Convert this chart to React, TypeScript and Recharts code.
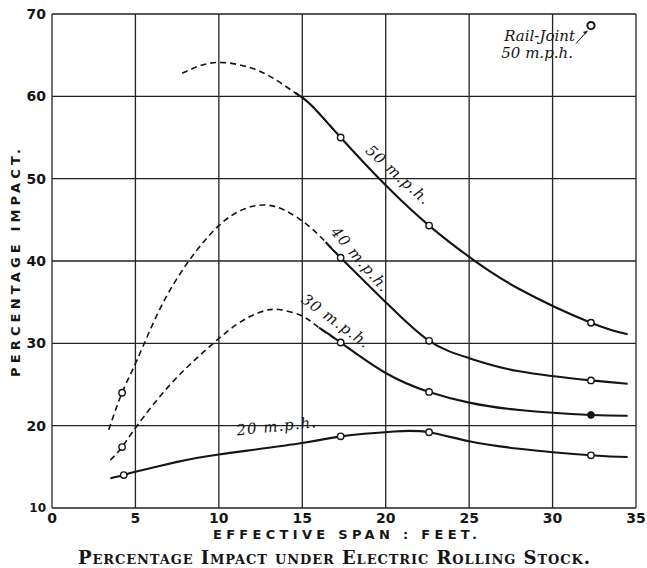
import { ComposedChart, Line, XAxis, YAxis, CartesianGrid, ReferenceDot } from 'recharts';

// span (feet) / percentage impact
const SPAN_TICKS = [0, 5, 10, 15, 20, 25, 30, 35];
const IMPACT_TICKS = [10, 20, 30, 40, 50, 60, 70];

// dashed parts run a little past the join, the solid part is drawn over them
const MPH50_DASHED = [
  { x: 7.8, y: 62.8 }, { x: 9, y: 63.8 }, { x: 10.3, y: 64.1 }, { x: 12, y: 63.4 },
  { x: 13.5, y: 61.9 }, { x: 14.6, y: 60.4 }, { x: 15.5, y: 59 }, { x: 17.3, y: 55 },
];
const MPH50_SOLID = [
  { x: 14.6, y: 60.4 }, { x: 15.5, y: 59 }, { x: 17.3, y: 55 }, { x: 20, y: 49.2 },
  { x: 22.6, y: 44.3 }, { x: 25, y: 40.5 }, { x: 28, y: 36.6 }, { x: 32.3, y: 32.5 },
  { x: 34.5, y: 31.1 },
];
const MPH40_DASHED = [
  { x: 3.4, y: 19.5 }, { x: 4.2, y: 24 }, { x: 5.1, y: 28 }, { x: 6.5, y: 34.3 },
  { x: 8.2, y: 40 }, { x: 10, y: 44.3 }, { x: 11.5, y: 46.3 }, { x: 12.8, y: 46.8 },
  { x: 14, y: 46.1 }, { x: 15.3, y: 44.4 }, { x: 16.4, y: 42.3 }, { x: 17.3, y: 40.4 },
];
const MPH40_SOLID = [
  { x: 16.4, y: 42.3 }, { x: 17.3, y: 40.4 }, { x: 20, y: 35 }, { x: 22.6, y: 30.3 },
  { x: 25, y: 28.2 }, { x: 28, y: 26.6 }, { x: 32.3, y: 25.5 }, { x: 34.5, y: 25.1 },
];
const MPH30_DASHED = [
  { x: 3.5, y: 15.8 }, { x: 4.2, y: 17.4 }, { x: 5.1, y: 20 }, { x: 7, y: 24.8 },
  { x: 9, y: 28.8 }, { x: 11, y: 32.2 }, { x: 12.5, y: 33.8 }, { x: 13.6, y: 34.1 },
  { x: 15, y: 33.3 }, { x: 16, y: 31.9 }, { x: 17.3, y: 30.1 },
];
const MPH30_SOLID = [
  { x: 16, y: 31.9 }, { x: 17.3, y: 30.1 }, { x: 20, y: 26.4 }, { x: 22.6, y: 24.1 },
  { x: 25, y: 22.8 }, { x: 28, y: 21.9 }, { x: 32.3, y: 21.3 }, { x: 34.5, y: 21.2 },
];
const MPH20_SOLID = [
  { x: 3.5, y: 13.6 }, { x: 4.3, y: 14 }, { x: 5, y: 14.4 }, { x: 7.5, y: 15.6 },
  { x: 10, y: 16.5 }, { x: 15, y: 17.9 }, { x: 17.3, y: 18.7 }, { x: 20.5, y: 19.3 },
  { x: 22.6, y: 19.2 }, { x: 25, y: 18.1 }, { x: 28, y: 17.2 }, { x: 32.3, y: 16.4 },
  { x: 34.5, y: 16.2 },
];

const OPEN_POINTS = [
  { x: 4.2, y: 24 }, { x: 4.2, y: 17.4 }, { x: 4.3, y: 14 },
  { x: 17.3, y: 55 }, { x: 22.6, y: 44.3 }, { x: 32.3, y: 32.5 },
  { x: 17.3, y: 40.4 }, { x: 22.6, y: 30.3 }, { x: 32.3, y: 25.5 },
  { x: 17.3, y: 30.1 }, { x: 22.6, y: 24.1 },
  { x: 17.3, y: 18.7 }, { x: 22.6, y: 19.2 }, { x: 32.3, y: 16.4 },
];
const FILLED_POINTS = [{ x: 32.3, y: 21.3 }];
const RAIL_JOINT = [{ x: 32.3, y: 68.6 }];

const CURVE_LABELS = [
  { x: 20.5, y: 49.9, text: '50 m.p.h.', tilt: 42 },
  { x: 18.2, y: 39.7, text: '40 m.p.h.', tilt: 49 },
  { x: 16.8, y: 32.1, text: '30 m.p.h.', tilt: 36 },
  { x: 13.5, y: 19.2, text: '20 m.p.h.', tilt: -6 },
];

const INK = '#151515';
const SERIF_ITALIC = { fontFamily: '"DejaVu Serif", serif', fontStyle: 'italic', fill: INK };
const SANS_BOLD = { fontFamily: '"DejaVu Sans", sans-serif', fontWeight: 700, fill: INK };

function CurveLabel({ viewBox, text, tilt }: any) {
  const { x, y } = viewBox;
  return (
    <text
      x={x}
      y={y - 6}
      transform={`rotate(${tilt} ${x} ${y})`}
      textAnchor="middle"
      dominantBaseline="central"
      fontSize={15}
      letterSpacing={1}
      {...SERIF_ITALIC}
    >
      {text}
    </text>
  );
}

function RailJointLabel({ viewBox }: any) {
  const { x, y } = viewBox;
  return (
    <g>
      <text x={x - 16} y={y + 15} textAnchor="end" fontSize={15} {...SERIF_ITALIC}>Rail-Joint</text>
      <text x={x - 18} y={y + 32} textAnchor="end" fontSize={15} {...SERIF_ITALIC}>50 m.p.h.</text>
      <line x1={x - 15} y1={y + 18} x2={x - 4} y2={y + 6} stroke={INK} strokeWidth={1} />
      <path d={`M${x - 3} ${y + 5} l-5 1.5 l2.5 2.5 z`} fill={INK} />
    </g>
  );
}

function XTick({ x, y, payload }: any) {
  return (
    <text x={x} y={y + 2} textAnchor="middle" dominantBaseline="central" fontSize={14} {...SANS_BOLD}>
      {payload.value}
    </text>
  );
}

function YTick({ y, payload }: any) {
  return (
    <text x={46} y={y} textAnchor="end" dominantBaseline="central" fontSize={payload.value === 10 ? 12 : 14} {...SANS_BOLD}>
      {payload.value}
    </text>
  );
}

const dashed = { stroke: INK, strokeWidth: 1.6, strokeDasharray: '6 4', dot: false, isAnimationActive: false, type: 'natural' as const };
const solid = { stroke: INK, strokeWidth: 2.1, dot: false, isAnimationActive: false, type: 'natural' as const };

export default function App() {
  return (
    <div style={{ position: 'absolute', left: 0, top: 0, width: 647, height: 568, background: '#fff' }}>
      <ComposedChart width={647} height={568} margin={{ top: 14, right: 11, left: 0, bottom: 0 }}>
        <CartesianGrid stroke="#222" strokeWidth={1.3} />
        <XAxis
          dataKey="x"
          type="number"
          domain={[0, 35]}
          ticks={SPAN_TICKS}
          height={60}
          tickLine={false}
          axisLine={false}
          tick={<XTick />}
          interval={0}
        />
        <YAxis
          type="number"
          domain={[10, 70]}
          ticks={IMPACT_TICKS}
          width={52}
          tickLine={false}
          axisLine={false}
          tick={<YTick />}
          interval={0}
        />
        <Line data={MPH50_DASHED} dataKey="y" {...dashed} />
        <Line data={MPH40_DASHED} dataKey="y" {...dashed} />
        <Line data={MPH30_DASHED} dataKey="y" {...dashed} />
        <Line data={MPH50_SOLID} dataKey="y" {...solid} />
        <Line data={MPH40_SOLID} dataKey="y" {...solid} />
        <Line data={MPH30_SOLID} dataKey="y" {...solid} />
        <Line data={MPH20_SOLID} dataKey="y" {...solid} />
        <Line
          data={OPEN_POINTS}
          dataKey="y"
          stroke="none"
          isAnimationActive={false}
          dot={{ r: 3.2, fill: '#fff', stroke: INK, strokeWidth: 1.4 }}
        />
        <Line
          data={FILLED_POINTS}
          dataKey="y"
          stroke="none"
          isAnimationActive={false}
          dot={{ r: 3.4, fill: INK, stroke: INK, strokeWidth: 1 }}
        />
        <Line
          data={RAIL_JOINT}
          dataKey="y"
          stroke="none"
          isAnimationActive={false}
          dot={{ r: 3.6, fill: '#fff', stroke: INK, strokeWidth: 2 }}
        />
        {CURVE_LABELS.map((l) => (
          <ReferenceDot
            key={l.text}
            x={l.x}
            y={l.y}
            r={0}
            stroke="none"
            fill="none"
            label={<CurveLabel text={l.text} tilt={l.tilt} />}
          />
        ))}
        <ReferenceDot x={32.3} y={68.6} r={0} stroke="none" fill="none" label={<RailJointLabel />} />
      </ComposedChart>
      <svg width={647} height={568} style={{ position: 'absolute', left: 0, top: 0, pointerEvents: 'none' }}>
        <text
          x={15}
          y={263}
          transform="rotate(-90 15 263)"
          textAnchor="middle"
          dominantBaseline="central"
          fontSize={13}
          textLength={228}
          lengthAdjust="spacing"
          {...SANS_BOLD}
        >
          PERCENTAGE IMPACT.
        </text>
        <text
          x={345}
          y={534}
          textAnchor="middle"
          dominantBaseline="central"
          fontSize={13}
          textLength={264}
          lengthAdjust="spacing"
          {...SANS_BOLD}
        >
          EFFECTIVE SPAN : FEET.
        </text>
        <text
          x={334}
          y={557}
          textAnchor="middle"
          dominantBaseline="central"
          fontFamily='"DejaVu Serif", serif'
          fontWeight={700}
          fontSize={18}
          fill={INK}
          style={{ fontVariant: 'small-caps' }}
          textLength={512}
          lengthAdjust="spacing"
        >
          Percentage Impact under Electric Rolling Stock.
        </text>
      </svg>
    </div>
  );
}
